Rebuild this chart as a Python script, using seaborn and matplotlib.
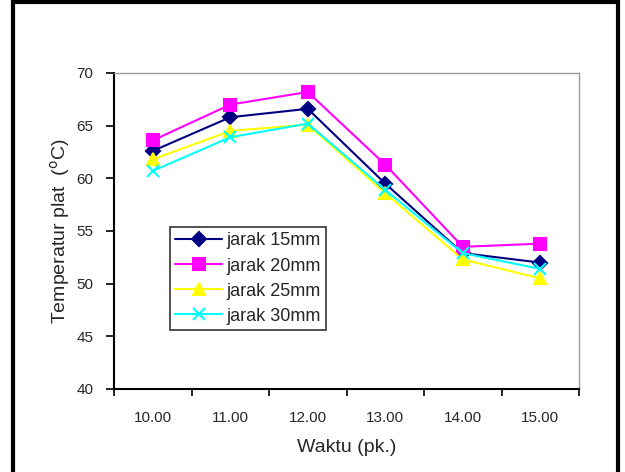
import matplotlib
matplotlib.use("Agg")
import matplotlib.pyplot as plt
import seaborn as sns
import pandas as pd
from matplotlib.patches import Rectangle

categories = ["10.00", "11.00", "12.00", "13.00", "14.00", "15.00"]
jarak_15 = [62.6, 65.8, 66.6, 59.5, 52.9, 52.0]
jarak_20 = [63.6, 67.0, 68.2, 61.3, 53.5, 53.8]
jarak_25 = [61.8, 64.5, 65.1, 58.6, 52.3, 50.5]
jarak_30 = [60.7, 63.9, 65.2, 58.9, 52.9, 51.4]
series_names = ["jarak 15mm", "jarak 20mm", "jarak 25mm", "jarak 30mm"]
yticks = [40, 45, 50, 55, 60, 65, 70]

sns.set_style("white")
plt.rcParams['font.family'] = ['Liberation Sans', 'DejaVu Sans']

fig = plt.figure(figsize=(6.25, 4.72), dpi=100)
ax = fig.add_axes([114/625, 1-389/472, (579-114)/625, (389-73)/472])

rows = []
for name, vals in zip(series_names, [jarak_15, jarak_20, jarak_25, jarak_30]):
    for i, v in enumerate(vals):
        rows.append({"x": i, "y": v, "series": name})
df = pd.DataFrame(rows)

colors = {"jarak 15mm": "#000080", "jarak 20mm": "#FF00FF",
          "jarak 25mm": "#FFFF00", "jarak 30mm": "#00FFFF"}
markers = {"jarak 15mm": "D", "jarak 20mm": "s",
           "jarak 25mm": "^", "jarak 30mm": "x"}
msize = {"jarak 15mm": 7, "jarak 20mm": 8.5, "jarak 25mm": 8.5, "jarak 30mm": 8}

for name in series_names:
    sub = df[df.series == name]
    sns.lineplot(data=sub, x="x", y="y", ax=ax, color=colors[name],
                 marker=markers[name], markersize=msize[name],
                 markeredgecolor=colors[name], markeredgewidth=1.5,
                 linewidth=1.5, label=name)

ax.set_xlim(-0.5, len(categories) - 0.5)
ax.set_ylim(40, 70)
ax.set_yticks(yticks)
ax.set_xticks(range(len(categories)))
ax.set_xticklabels(categories)
ax.set_xticks([i - 0.5 for i in range(len(categories) + 1)], minor=True)
ax.tick_params(axis='x', which='major', length=0, pad=16, labelsize=11)
ax.tick_params(axis='x', which='minor', length=5, width=1.2, color='black', direction='out')
ax.tick_params(axis='y', length=6, width=1.2, color='black', direction='out', labelsize=11, pad=9)
ax.tick_params(bottom=True, left=True, which='both')

for s in ['left', 'bottom']:
    ax.spines[s].set_color('black')
    ax.spines[s].set_linewidth(1.5)
for s in ['top', 'right']:
    ax.spines[s].set_color('#999999')
    ax.spines[s].set_linewidth(1.0)

ax.set_xlabel("Waktu (pk.)", fontsize=14, labelpad=10)
ax.set_ylabel("Temperatur plat  ($^{\\rm o}$C)", fontsize=14, labelpad=3)

leg = ax.legend(loc='upper left', bbox_to_anchor=((170-114)/465, 1-(227-73)/316),
                frameon=True, fancybox=False, edgecolor='black', fontsize=13,
                borderpad=0.3, labelspacing=0.45, handlelength=2.6, handletextpad=0.2,
                borderaxespad=0)
leg.get_frame().set_linewidth(1.2)

fig.patches.append(Rectangle((13/625, -0.05), (618-13)/625, 1.05 - 2/472, transform=fig.transFigure,
                             fill=False, edgecolor='black', linewidth=3))

fig.savefig("out.png", dpi=100)
